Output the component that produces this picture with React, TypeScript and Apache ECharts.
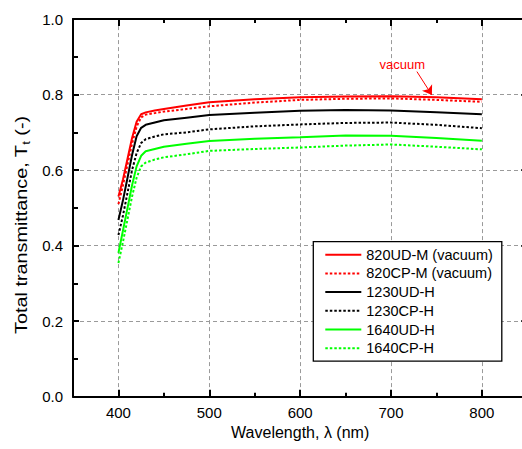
import React, { useEffect, useRef } from "react";
import * as echarts from "echarts";

const wavelengths = [400, 405, 410, 415, 420, 425, 430, 440, 450, 475, 500, 550, 600, 650, 700, 750, 800];

const ud820 = [0.530, 0.575, 0.630, 0.685, 0.728, 0.748, 0.753, 0.758, 0.762, 0.771, 0.780, 0.788, 0.793, 0.795, 0.796, 0.793, 0.788];
const cp820 = [0.510, 0.560, 0.615, 0.670, 0.715, 0.740, 0.747, 0.751, 0.755, 0.762, 0.769, 0.779, 0.786, 0.789, 0.790, 0.786, 0.781];
const ud1230 = [0.468, 0.520, 0.580, 0.640, 0.690, 0.712, 0.720, 0.726, 0.732, 0.739, 0.746, 0.752, 0.757, 0.759, 0.758, 0.753, 0.748];
const cp1230 = [0.428, 0.480, 0.540, 0.600, 0.645, 0.672, 0.682, 0.689, 0.695, 0.700, 0.708, 0.716, 0.721, 0.725, 0.726, 0.720, 0.711];
const ud1640 = [0.381, 0.440, 0.500, 0.560, 0.610, 0.638, 0.650, 0.656, 0.662, 0.670, 0.677, 0.683, 0.687, 0.692, 0.691, 0.685, 0.678];
const cp1640 = [0.354, 0.410, 0.470, 0.530, 0.580, 0.610, 0.620, 0.628, 0.634, 0.642, 0.651, 0.656, 0.660, 0.665, 0.668, 0.662, 0.655];

const seriesNames = ["820UD-M (vacuum)", "820CP-M (vacuum)", "1230UD-H", "1230CP-H", "1640UD-H", "1640CP-H"];
const seriesValues = [ud820, cp820, ud1230, cp1230, ud1640, cp1640];
const seriesColors = ["#ff0000", "#ff0000", "#000000", "#000000", "#00ff00", "#00ff00"];
const seriesDotted = [false, true, false, true, false, true];

const xMajorTicks = [400, 500, 600, 700, 800];
const xMinorTicks = [450, 550, 650, 750];

const annotationText = "vacuum";
const annotationTextAt = [712.5, 0.881];
const annotationArrowFrom = [728.5, 0.861];
const annotationArrowTo = [745, 0.799];

const FONT = "'Liberation Sans', Arial, Helvetica, sans-serif";

export default function App() {
  const ref = useRef<HTMLDivElement>(null);

  useEffect(() => {
    if (!ref.current) return;
    const chart = echarts.init(ref.current, undefined, { renderer: "svg" });

    const axisLine = { show: true, lineStyle: { color: "#000", width: 2 } };
    const splitDash = { show: true, lineStyle: { color: "#9a9a9a", width: 1, type: [4, 3] as any } };

    const xBase = { type: "value" as const, min: 350, max: 850, gridIndex: 0 };
    const yBase = { type: "value" as const, min: 0, max: 1, interval: 0.2, gridIndex: 0 };

    const series: any[] = seriesNames.map((name, i) => ({
      name,
      type: "line",
      xAxisIndex: 0,
      yAxisIndex: 0,
      data: wavelengths.map((w, j) => [w, seriesValues[i][j]]),
      symbol: "none",
      showSymbol: false,
      smooth: false,
      lineStyle: {
        color: seriesColors[i],
        width: 2,
        type: seriesDotted[i] ? [2.5, 2] : "solid",
      },
      itemStyle: { color: seriesColors[i] },
      z: 10 - i,
    }));

    series[0].markLine = {
      silent: true,
      symbol: ["none", "arrow"],
      symbolSize: 9,
      label: { show: false },
      lineStyle: { color: "#ff0000", width: 1, type: "solid" },
      data: [[{ coord: annotationArrowFrom }, { coord: annotationArrowTo }]],
    };
    series[0].markPoint = {
      silent: true,
      symbol: "rect",
      symbolSize: 1,
      itemStyle: { color: "transparent" },
      label: {
        show: true,
        position: "inside",
        formatter: annotationText,
        color: "#ff0000",
        fontSize: 13,
        fontFamily: FONT,
      },
      data: [{ coord: annotationTextAt }],
    };

    chart.setOption({
      animation: false,
      backgroundColor: "#fff",
      textStyle: { fontFamily: FONT },
      grid: [{ left: 73, top: 19.1, width: 454.3, height: 377.6, containLabel: false }],
      legend: {
        orient: "vertical",
        left: 313.3,
        top: 241.7,
        padding: [5, 9, 5, 11],
        itemGap: 2.7,
        itemWidth: 36,
        itemHeight: 16,
        backgroundColor: "#fff",
        borderColor: "#000",
        borderWidth: 1.3,
        borderRadius: 0,
        data: seriesNames,
        itemStyle: { opacity: 0 },
        textStyle: { fontSize: 14.5, color: "#000", fontFamily: FONT, lineHeight: 16 },
        z: 20,
      },
      xAxis: [
        {
          ...xBase,
          position: "bottom",
          axisLine,
          axisTick: { show: true, inside: true, length: 7, customValues: xMajorTicks, lineStyle: { color: "#000", width: 2 } },
          axisLabel: { show: true, customValues: xMajorTicks, fontSize: 15, color: "#000", margin: 8, fontFamily: FONT },
          splitLine: splitDash,
          name: "Wavelength, λ (nm)",
          nameLocation: "middle",
          nameGap: 28,
          nameTextStyle: { fontSize: 16, color: "#000", fontFamily: FONT, verticalAlign: "top" },
        },
        {
          ...xBase,
          position: "bottom",
          axisLine: { show: false },
          axisTick: { show: true, inside: true, length: 4, customValues: xMinorTicks, lineStyle: { color: "#000", width: 2 } },
          axisLabel: { show: false },
          splitLine: { show: false },
        },
        {
          ...xBase,
          position: "top",
          axisLine,
          axisTick: { show: true, inside: true, length: 7, customValues: xMajorTicks, lineStyle: { color: "#000", width: 2 } },
          axisLabel: { show: false },
          splitLine: { show: false },
        },
        {
          ...xBase,
          position: "top",
          axisLine: { show: false },
          axisTick: { show: true, inside: true, length: 4, customValues: xMinorTicks, lineStyle: { color: "#000", width: 2 } },
          axisLabel: { show: false },
          splitLine: { show: false },
        },
      ],
      yAxis: [
        {
          ...yBase,
          position: "left",
          axisLine,
          axisTick: { show: true, inside: true, length: 6, lineStyle: { color: "#000", width: 2 } },
          minorTick: { show: true, splitNumber: 2, length: 5, lineStyle: { color: "#000", width: 2 } },
          axisLabel: {
            show: true,
            fontSize: 15,
            color: "#000",
            margin: 10,
            fontFamily: FONT,
            formatter: (v: number) => v.toFixed(1),
          },
          splitLine: splitDash,
        },
        {
          ...yBase,
          position: "right",
          axisLine,
          axisTick: { show: true, inside: true, length: 6, lineStyle: { color: "#000", width: 2 } },
          minorTick: { show: true, splitNumber: 2, length: 5, lineStyle: { color: "#000", width: 2 } },
          axisLabel: { show: false },
          splitLine: { show: false },
        },
      ],
      graphic: [
        {
          type: "text",
          x: 22,
          y: 225,
          rotation: Math.PI / 2,
          scaleX: 1.2,
          style: {
            text: "Total transmittance, T{sub|t} (-)",
            fontSize: 16.5,
            fontFamily: FONT,
            fill: "#000",
            align: "center",
            verticalAlign: "middle",
            rich: {
              sub: { fontSize: 11, fontFamily: FONT, fill: "#000", padding: [9, 0, 0, 0] },
            },
          },
        },
      ],
      series,
    });

    return () => chart.dispose();
  }, []);

  return (
    <div style={{ position: "fixed", left: 0, top: 0, width: 522, height: 449, overflow: "hidden", background: "#fff" }}>
      <div ref={ref} style={{ width: 530, height: 449 }} />
    </div>
  );
}
